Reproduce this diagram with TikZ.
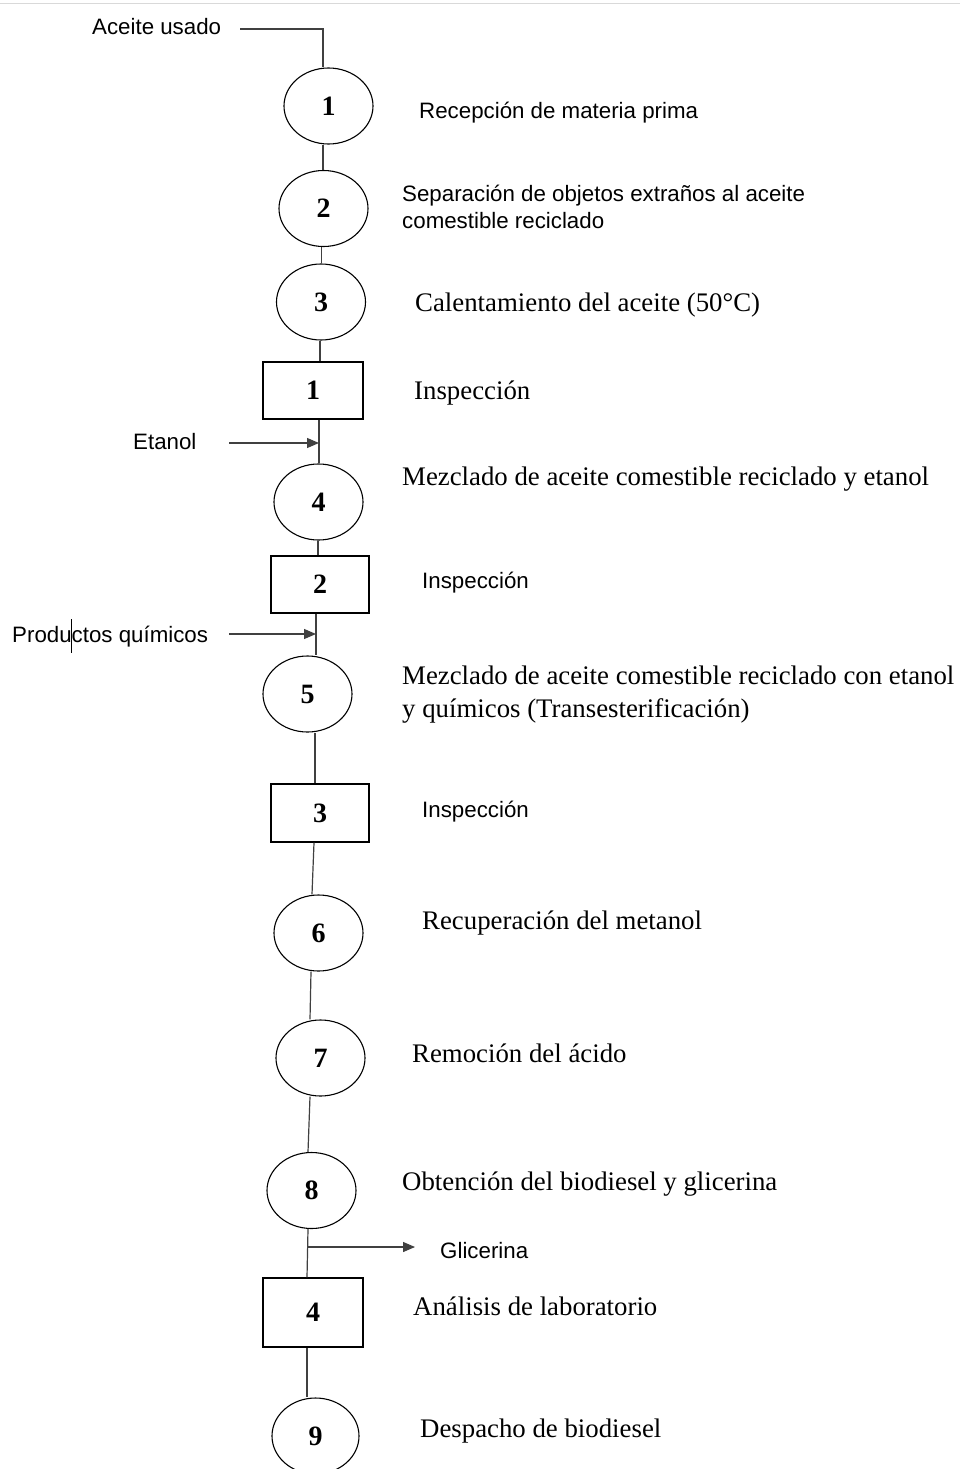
\documentclass[tikz,border=0pt]{standalone}
\usepackage{fontspec}
\setmainfont{Liberation Serif}
\newfontfamily\arial{Liberation Sans}
\usetikzlibrary{shapes.geometric,arrows.meta}
\tikzset{
  oper/.style={ellipse,draw=black,line width=1.1pt,minimum width=89pt,minimum height=76pt,inner sep=0pt,font=\fontsize{28}{30}\selectfont\bfseries},
  insp/.style={rectangle,draw=black,line width=1.1pt,minimum width=99pt,minimum height=57pt,inner sep=0pt,font=\fontsize{28}{30}\selectfont\bfseries},
  conn/.style={draw=black!75,line width=1.2pt},
  arr/.style={conn,-{Triangle[length=12pt,width=10pt]}},
  serif/.style={anchor=base west,inner sep=0pt,font=\fontsize{26.8}{33}\selectfont,align=left},
  sans/.style={anchor=base west,inner sep=0pt,font=\arial\fontsize{22.3}{27}\selectfont,align=left}
}
\begin{document}
\begin{tikzpicture}[x=1pt,y=-1pt]
\useasboundingbox (0,0) rectangle (960,1469);
\fill[white] (0,0) rectangle (960,1469);
\draw[black!15,line width=1pt] (0,4) -- (960,4);
% shapes
\node[oper] (c1) at (328.5,106) {1};
\node[oper] (c2) at (323.5,208.5) {2};
\node[oper] (c3) at (321,302) {3};
\node[insp,minimum width=100pt] (r1) at (313,390.5) {1};
\node[oper] (c4) at (318.5,502) {4};
\node[insp,minimum width=98pt] (r2) at (320,584.5) {2};
\node[oper] (c5) at (307.5,694) {5};
\node[insp,minimum width=98pt,minimum height=58pt] (r3) at (320,813) {3};
\node[oper] (c6) at (318.5,933) {6};
\node[oper] (c7) at (320.5,1058) {7};
\node[oper] (c8) at (311.5,1190.5) {8};
\node[insp,minimum width=100pt,minimum height=69pt] (r4) at (313,1312.5) {4};
\node[oper,minimum width=87pt] (c9) at (315.5,1436) {9};
% labels left
\node[sans] (lau) at (92,35) {Aceite usado};
\node[sans] (let) at (133,449) {Etanol};
\node[sans] (lpq) at (12,642) {Productos químicos};
\node[sans] (lgl) at (440,1258) {Glicerina};
% cursor artifact
\draw[black,line width=1pt] (71,619) -- (71,653);
% labels right
\node[sans] (t1) at (419,119) {Recepción de materia prima};
\node[sans] (t2) at (402,228) {Separación de objetos extraños al aceite\\comestible reciclado};
\node[serif] (t3) at (415,311) {Calentamiento del aceite (50°C)};
\node[serif] (t4) at (414,399) {Inspección};
\node[serif] (t5) at (402,485) {Mezclado de aceite comestible reciclado y etanol};
\node[sans] (t6) at (422,588) {Inspección};
\node[serif] (t7) at (402,717) {Mezclado de aceite comestible reciclado con etanol\\y químicos (Transesterificación)};
\node[sans] (t8) at (422,817) {Inspección};
\node[serif] (t9) at (422,929) {Recuperación del metanol};
\node[serif] (t10) at (412,1062) {Remoción del ácido};
\node[serif] (t11) at (402,1190) {Obtención del biodiesel y glicerina};
\node[serif] (t12) at (413,1315) {Análisis de laboratorio};
\node[serif] (t13) at (420,1437) {Despacho de biodiesel};
% connectors
\coordinate (a0) at (240,29);
\coordinate (a1) at (323,29);
\draw[conn] (a0) -- (a1) -- (c1.north -| a1);
\draw[conn] (c1.south -| 323,0) -- (c2.north -| 323,0);
\draw[conn] (c2.south -| 321.5,0) -- (c3.north -| 321.5,0);
\draw[conn] (c3.south -| 320,0) -- (r1.north -| 320,0);
\draw[conn] (r1.south -| 319,0) -- (c4.north -| 319,0);
\draw[conn] (c4.south -| 318,0) -- (r2.north -| 318,0);
\draw[conn] (r2.south -| 316,0) -- (c5.north -| 316,0);
\draw[conn] (c5.south -| 315,0) -- (r3.north -| 315,0);
\draw[conn] (r3.south -| 314,0) -- (c6.north -| 312,0);
\draw[conn] (c6.south -| 311,0) -- (c7.north -| 310,0);
\draw[conn] (c7.south -| 310,0) -- (c8.north -| 308,0);
\draw[conn] (c8.south -| 308,0) -- (r4.north -| 307,0);
\draw[conn] (r4.south -| 307,0) -- (c9.north -| 307,0);
% input / output arrows
\coordinate (e0) at (229,443);
\coordinate (e1) at (319,443);
\draw[arr] (e0) -- (e1);
\coordinate (p0) at (229,634);
\coordinate (p1) at (316,634);
\draw[arr] (p0) -- (p1);
\coordinate (g0) at (308,1247);
\coordinate (g1) at (415,1247);
\draw[arr] (g0) -- (g1);
\end{tikzpicture}
\end{document}
